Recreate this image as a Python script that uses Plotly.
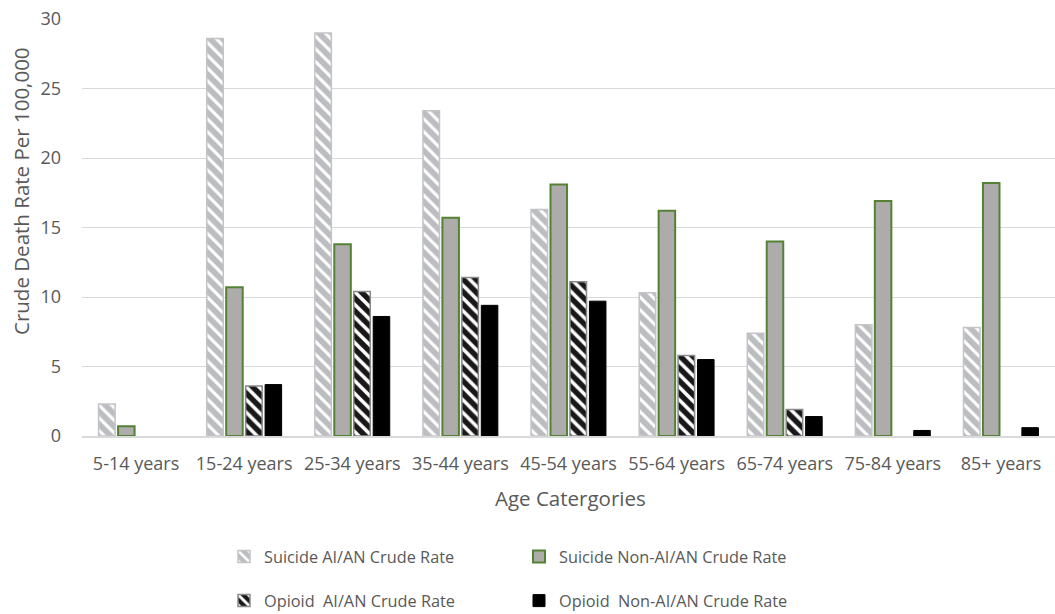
import plotly.graph_objects as go

categories = ["5-14 years", "15-24 years", "25-34 years", "35-44 years", "45-54 years",
              "55-64 years", "65-74 years", "75-84 years", "85+ years"]
suicide_aian = [2.3, 28.6, 29.0, 23.4, 16.3, 10.3, 7.4, 8.0, 7.8]
suicide_non = [0.7, 10.7, 13.8, 15.7, 18.1, 16.2, 14.0, 16.9, 18.2]
opioid_aian = [None, 3.6, 10.4, 11.4, 11.1, 5.8, 1.9, None, None]
opioid_non = [None, 3.7, 8.6, 9.4, 9.7, 5.5, 1.4, 0.4, 0.6]
series_names = ["Suicide AI/AN Crude Rate", "Suicide Non-AI/AN Crude Rate",
                "Opioid  AI/AN Crude Rate", "Opioid  Non-AI/AN Crude Rate"]
y_ticks = [0, 5, 10, 15, 20, 25, 30]

FONT = "Open Sans"
TXT = "#595959"
W, H = 1055, 614
# plot area in page pixels: x 82..1058, y 19..436
L = 82
R = 0
T = 19
B = H - 436

fig = go.Figure()
fig.add_trace(go.Bar(
    x=categories, y=suicide_aian, name=series_names[0], legend="legend",
    marker=dict(color="#bcbdc1", line=dict(color="#c3c4c8", width=1.5),
                pattern=dict(shape="\\", bgcolor="#bcbdc1", fgcolor="#ffffff",
                             size=9, solidity=0.35, fillmode="replace")),
))
fig.add_trace(go.Bar(
    x=categories, y=suicide_non, name=series_names[1], legend="legend",
    marker=dict(color="#aeabab", line=dict(color="#548235", width=2)),
))
fig.add_trace(go.Bar(
    x=categories, y=opioid_aian, name=series_names[2], legend="legend2",
    marker=dict(color="#1a1718", line=dict(color="#8a8a8a", width=1.5),
                pattern=dict(shape="\\", bgcolor="#1a1718", fgcolor="#ffffff",
                             size=9, solidity=0.4, fillmode="replace")),
))
fig.add_trace(go.Bar(
    x=categories, y=opioid_non, name=series_names[3], legend="legend2",
    marker=dict(color="#000000", line=dict(color="#000000", width=1)),
))

def px_x(p):
    return (p - L) / (W - L - R)

def px_y(p):
    return (H - B - p) / (H - T - B)

leg_common = dict(orientation="h", xanchor="left", yanchor="middle",
                  font=dict(family=FONT, size=16.3, color=TXT),
                  entrywidth=250, entrywidthmode="pixels",
                  itemwidth=30, bgcolor="rgba(0,0,0,0)", traceorder="normal")

fig.update_layout(
    width=W, height=H,
    margin=dict(l=L, r=R, t=T, b=B, autoexpand=False),
    paper_bgcolor="white", plot_bgcolor="white",
    barmode="group", bargap=0.28, bargroupgap=0.15,
    font=dict(family=FONT, size=16, color=TXT),
    xaxis=dict(showline=True, linecolor="#d9d9d9", linewidth=1.5, showgrid=False,
               ticks="", tickfont=dict(family=FONT, size=18, color=TXT),
               ticklabelstandoff=11, fixedrange=True),
    yaxis=dict(range=[0, 30], tickvals=y_ticks, showgrid=True, gridcolor="#d9d9d9",
               gridwidth=1, zeroline=False, ticks="",
               tickfont=dict(family=FONT, size=18, color=TXT),
               ticklabelstandoff=20, ticklabeloverflow="allow", fixedrange=True),
    legend=dict(x=px_x(224), y=px_y(557), **leg_common),
    legend2=dict(x=px_x(224), y=px_y(601), **leg_common),
    annotations=[
        dict(text="Age Catergories", xref="paper", yref="paper",
             x=px_x(570), y=px_y(498), xanchor="center", yanchor="middle",
             showarrow=False, font=dict(family=FONT, size=20.5, color=TXT)),
        dict(text="Crude Death Rate Per 100,000", xref="paper", yref="paper",
             x=px_x(21), y=px_y(191), xanchor="center", yanchor="middle",
             textangle=-90, showarrow=False,
             font=dict(family=FONT, size=20.5, color=TXT)),
    ],
)

fig.write_html("out.html",
               config={"displayModeBar": False},
               post_script="document.body.style.margin='0px';"
                           "document.body.style.overflow='hidden';")
